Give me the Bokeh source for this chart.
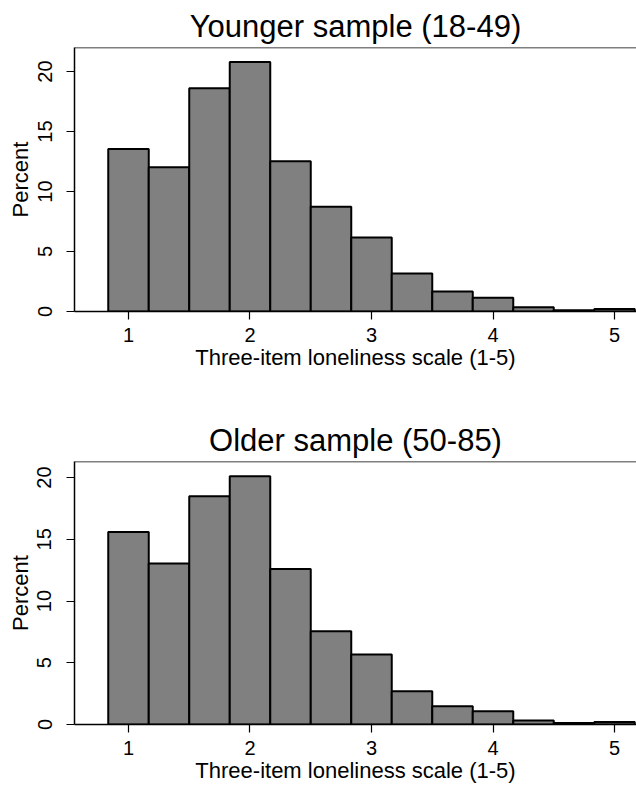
from bokeh.plotting import figure
from bokeh.layouts import column
from bokeh.models import Range1d, FixedTicker, Span
from bokeh.embed import file_html
from bokeh.resources import INLINE

# Histogram bins (width 1/3) of the three-item loneliness scale
bin_centers = [1.0, 4/3, 5/3, 2.0, 7/3, 8/3, 3.0, 10/3, 11/3, 4.0, 13/3, 14/3, 5.0]
bin_width = 1/3

younger_pct = [13.55, 12.03, 18.6, 20.8, 12.53, 8.72, 6.17, 3.17, 1.67, 1.14, 0.36, 0.1, 0.2]
older_pct = [15.59, 13.03, 18.49, 20.1, 12.6, 7.55, 5.67, 2.7, 1.48, 1.07, 0.33, 0.12, 0.2]

x_ticks = [1, 2, 3, 4, 5]
y_ticks = [0, 5, 10, 15, 20]

titles = ["Younger sample (18-49)", "Older sample (50-85)"]
x_label = "Three-item loneliness scale (1-5)"
y_label = "Percent"

FONT = "Liberation Sans"


def make_panel(title, values, ymax, height, border_top, border_bottom):
    p = figure(width=636, height=height,
               x_range=Range1d(0.5556, 5.181), y_range=Range1d(0, ymax),
               output_backend="svg", toolbar_location=None,
               min_border_left=74, min_border_right=0,
               min_border_top=border_top, min_border_bottom=border_bottom,
               title=title)
    p.title.text_font = FONT
    p.title.text_font_size = "31px"
    p.title.text_font_style = "normal"
    p.title.text_color = "black"
    p.title.align = "center"
    p.title.standoff = 8

    left = [c - bin_width / 2 for c in bin_centers]
    right = [c + bin_width / 2 for c in bin_centers]
    p.quad(left=left, right=right, top=values, bottom=0,
           fill_color="#808080", line_color="black", line_width=2)

    p.xgrid.visible = False
    p.ygrid.visible = False
    p.outline_line_color = None
    p.background_fill_color = "white"
    p.border_fill_color = "white"

    p.add_layout(Span(location=ymax, dimension="width", line_color="black",
                      line_width=1.5, level="overlay"))

    for ax in (p.xaxis[0], p.yaxis[0]):
        ax.axis_line_color = "black"
        ax.axis_line_width = 1.5
        ax.major_tick_line_color = "black"
        ax.major_tick_line_width = 1.2
        ax.major_tick_in = 0
        ax.major_tick_out = 8
        ax.minor_tick_line_color = None
        ax.major_label_text_font = FONT
        ax.major_label_text_font_size = "20px"
        ax.major_label_text_color = "black"
        ax.axis_label_text_font = FONT
        ax.axis_label_text_font_size = "22px"
        ax.axis_label_text_font_style = "normal"
        ax.axis_label_text_color = "black"

    p.xaxis.ticker = FixedTicker(ticks=x_ticks)
    p.yaxis.ticker = FixedTicker(ticks=y_ticks)
    p.xaxis.axis_label = x_label
    p.yaxis.axis_label = y_label
    p.xaxis.major_label_standoff = 8
    p.xaxis.axis_label_standoff = 0
    p.yaxis.major_label_standoff = 15
    p.yaxis.axis_label_standoff = 2
    p.yaxis.major_label_orientation = "vertical"
    return p


p1 = make_panel(titles[0], younger_pct, 22.0, 414, 47, 103)
p2 = make_panel(titles[1], older_pct, 21.3, 371, 47, 60)

layout = column(p1, p2, spacing=0)
open("out.html", "w").write(file_html(layout, INLINE))
